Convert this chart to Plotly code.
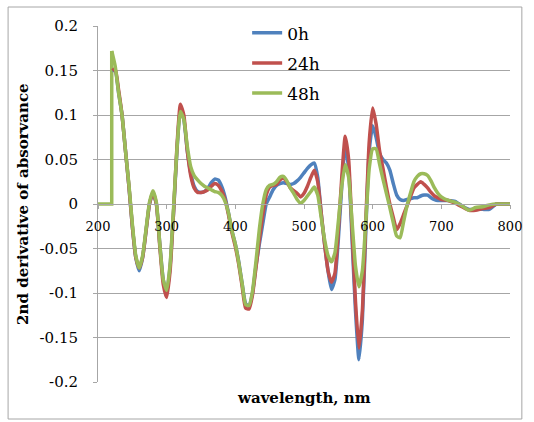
import plotly.graph_objects as go

wl = [221, 225, 230, 235, 240, 245, 250, 255, 260, 265, 270, 275, 280, 285, 290, 295,
      300, 305, 310, 315, 320, 325, 330, 335, 340, 345, 350, 355, 360, 365, 370, 375,
      380, 385, 390, 395, 400, 405, 410, 415, 420, 425, 430, 435, 440, 445, 450, 455,
      460, 465, 470, 475, 480, 485, 490, 495, 500, 505, 510, 515, 520, 525, 530, 535,
      540, 545, 550, 555, 560, 565, 570, 575, 580, 585, 590, 595, 600, 605, 610, 615,
      620, 625, 630, 635, 640, 645, 650, 655, 660, 665, 670, 675, 680, 685, 690, 695,
      700, 710, 720, 730, 740, 750, 760, 770, 780, 790, 800]

h0 = [0.150, 0.150, 0.125, 0.100, 0.060, 0.020, -0.025, -0.060, -0.075, -0.060, -0.030, 0.000,
      0.012, 0.000, -0.045, -0.085, -0.100, -0.070, -0.010, 0.060, 0.106, 0.095, 0.060, 0.035,
      0.020, 0.014, 0.013, 0.014, 0.018, 0.024, 0.028, 0.027, 0.020, 0.008, -0.010, -0.030,
      -0.045, -0.065, -0.090, -0.112, -0.115, -0.100, -0.070, -0.045, -0.022, 0.000, 0.008,
      0.016, 0.021, 0.023, 0.024, 0.023, 0.022, 0.023, 0.026, 0.030, 0.035, 0.040, 0.044,
      0.046, 0.030, -0.010, -0.045, -0.075, -0.096, -0.085, -0.040, 0.020, 0.066, 0.040,
      -0.040, -0.120, -0.175, -0.130, -0.030, 0.060, 0.088, 0.075, 0.057, 0.050, 0.046,
      0.038, 0.023, 0.010, 0.005, 0.004, 0.005, 0.006, 0.007, 0.007, 0.009, 0.010, 0.010,
      0.007, 0.005, 0.004, 0.004, 0.004, 0.003, -0.002, -0.006, -0.006, -0.006, -0.006,
      0.000, 0.000, 0.000]

h24 = [0.150, 0.152, 0.128, 0.100, 0.060, 0.020, -0.025, -0.060, -0.072, -0.060, -0.030, 0.000,
       0.013, 0.000, -0.048, -0.090, -0.105, -0.075, -0.010, 0.065, 0.112, 0.100, 0.060, 0.032,
       0.018, 0.013, 0.013, 0.014, 0.016, 0.020, 0.023, 0.021, 0.015, 0.005, -0.012, -0.032,
       -0.048, -0.068, -0.093, -0.117, -0.118, -0.102, -0.072, -0.040, -0.012, 0.010, 0.019,
       0.021, 0.022, 0.027, 0.029, 0.025, 0.018, 0.015, 0.012, 0.008, 0.012, 0.020, 0.030,
       0.038, 0.025, -0.010, -0.045, -0.075, -0.088, -0.078, -0.030, 0.030, 0.076, 0.050,
       -0.030, -0.110, -0.162, -0.120, -0.020, 0.070, 0.108, 0.090, 0.060, 0.040, 0.019,
       0.000, -0.015, -0.029, -0.022, -0.012, -0.002, 0.008, 0.018, 0.022, 0.025, 0.022,
       0.018, 0.013, 0.009, 0.007, 0.005, 0.004, 0.001, -0.003, -0.007, -0.007, -0.005,
       -0.004, 0.000, 0.000, 0.000]

wl48 = [200, 220] + [220, 225, 230, 235, 240, 245, 250, 255, 260, 265, 270, 275, 280, 285, 290, 295,
      300, 305, 310, 315, 320, 325, 330, 335, 340, 345, 350, 355, 360, 365, 370, 375,
      380, 385, 390, 395, 400, 405, 410, 415, 420, 425, 430, 435, 440, 445, 450, 455,
      460, 465, 470, 475, 480, 485, 490, 495, 500, 505, 510, 515, 520, 525, 530, 535,
      540, 545, 550, 555, 560, 565, 570, 575, 580, 585, 590, 595, 600, 605, 610, 615,
      620, 625, 630, 635, 640, 645, 650, 655, 660, 665, 670, 675, 680, 685, 690, 695,
      700, 710, 720, 730, 740, 750, 760, 770, 780, 790, 800]

h48 = [0.0, 0.0, 0.172, 0.155, 0.125, 0.100, 0.060, 0.022, -0.022, -0.058, -0.072, -0.058,
       -0.028, 0.002, 0.015, 0.002, -0.045, -0.085, -0.097, -0.068, -0.005, 0.062, 0.104,
       0.095, 0.065, 0.042, 0.032, 0.027, 0.023, 0.020, 0.018, 0.016, 0.014, 0.013, 0.010,
       0.003, -0.010, -0.030, -0.045, -0.066, -0.090, -0.113, -0.114, -0.098, -0.065,
       -0.028, 0.000, 0.016, 0.021, 0.022, 0.025, 0.030, 0.031, 0.026, 0.018, 0.012, 0.005,
       0.001, 0.004, 0.009, 0.014, 0.019, 0.010, -0.015, -0.040, -0.058, -0.065, -0.055,
       -0.020, 0.020, 0.044, 0.030, -0.020, -0.070, -0.093, -0.075, -0.020, 0.040, 0.062,
       0.062, 0.045, 0.028, 0.012, -0.004, -0.021, -0.036, -0.038, -0.020, -0.002, 0.012,
       0.025, 0.031, 0.034, 0.034, 0.032, 0.026, 0.018, 0.012, 0.008, 0.004, 0.002, -0.002,
       -0.007, -0.004, -0.003, -0.001, 0.000, 0.000, 0.000]

series_names = ["0h", "24h", "48h"]
y_tickvals = [0.2, 0.15, 0.1, 0.05, 0, -0.05, -0.1, -0.15, -0.2]
y_ticktext = ["0.2", "0.15", "0.1", "0.05", "0", "-0.05", "-0.1", "-0.15", "-0.2"]
x_tickvals = [200, 300, 400, 500, 600, 700, 800]

colors = ["#4F81BD", "#C0504D", "#9BBB59"]
serif = "DejaVu Serif"

fig = go.Figure()
# sharp step at the start of the 48h series (drawn straight, not smoothed)
fig.add_trace(go.Scatter(x=wl48[:3], y=h48[:3], mode="lines", showlegend=False,
                         legendgroup=series_names[2], hoverinfo="skip",
                         line=dict(color=colors[2], width=3.5, shape="linear")))
for name, x, y, c in zip(series_names, [wl, wl, wl48[2:]], [h0, h24, h48[2:]], colors):
    fig.add_trace(go.Scatter(x=x, y=y, name=name, mode="lines", legendgroup=name,
                             line=dict(color=c, width=3.5, shape="spline", smoothing=0.5)))

grid = "#A6A6A6"
fig.update_layout(
    width=534, height=422,
    margin=dict(l=98, r=19, t=26, b=40),
    paper_bgcolor="white", plot_bgcolor="white",
    font=dict(family=serif, color="black"),
    showlegend=True,
    legend=dict(x=0.362, y=1.03, xanchor="left", yanchor="top",
                bgcolor="rgba(0,0,0,0)", font=dict(family=serif, size=17),
                tracegroupgap=5, itemwidth=30, traceorder="grouped"),
    xaxis=dict(range=[200, 800], tickvals=x_tickvals, anchor="free", position=0.5,
               showline=True, linecolor=grid, linewidth=1, showgrid=False, zeroline=False,
               ticks="outside", ticklen=4, tickcolor=grid, ticklabelstandoff=6,
               tickfont=dict(family=serif, size=13)),
    yaxis=dict(range=[-0.2, 0.2], tickvals=y_tickvals, ticktext=y_ticktext,
               showline=True, linecolor=grid, linewidth=1, showgrid=True, gridcolor=grid,
               gridwidth=1, zeroline=False, ticks="outside", ticklen=4, tickcolor=grid,
               ticklabelstandoff=12, tickfont=dict(family=serif, size=15)),
)

fig.add_annotation(text="<b>2nd derivative of absorvance</b>", xref="paper", yref="paper",
                   x=(22 - 98) / 417, y=0.5, textangle=-90, showarrow=False,
                   font=dict(family=serif, size=15), xanchor="center", yanchor="middle")
fig.add_annotation(text="<b>wavelength, nm</b>", xref="paper", yref="paper",
                   x=(307 - 98) / 417, y=(382 - 398) / 356, showarrow=False,
                   font=dict(family=serif, size=15), xanchor="center", yanchor="middle")

fig.add_shape(type="rect", xref="paper", yref="paper",
              x0=(7 - 98) / 417, x1=(527 - 98) / 417, y0=(382 - 419) / 356, y1=(382 - 7) / 356,
              line=dict(color="#A6A6A6", width=1), fillcolor="rgba(0,0,0,0)", layer="below")

fig.write_html("out.html")
